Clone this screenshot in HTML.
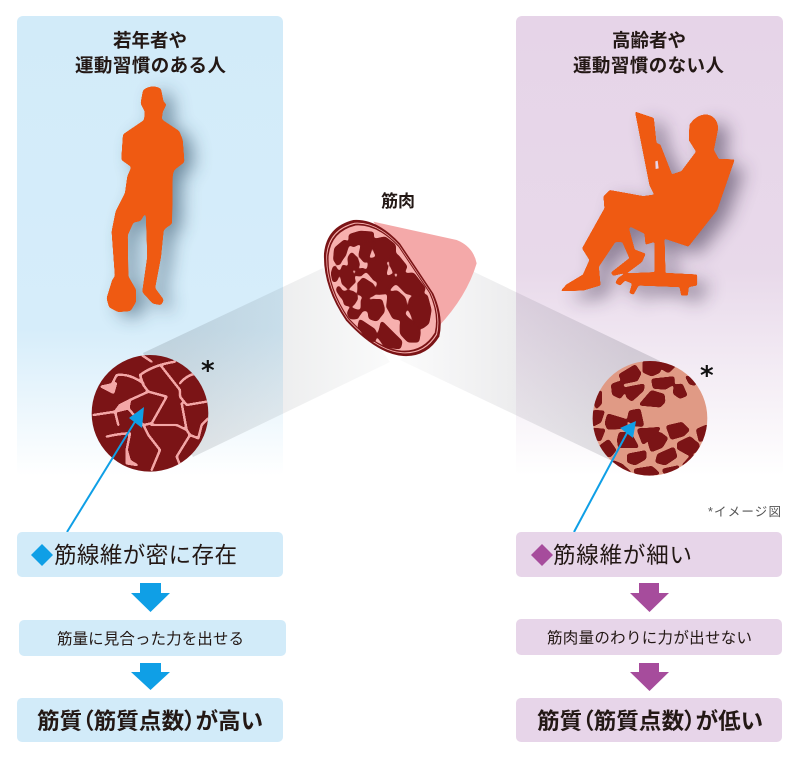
<!DOCTYPE html>
<html lang="ja"><head><meta charset="utf-8"><title>筋質</title>
<style>html,body{margin:0;padding:0;background:#fff}svg{display:block}text{font-family:"Liberation Sans","Noto Sans CJK JP",sans-serif;fill:#231815}.b{font-weight:700}</style></head>
<body>
<svg width="800" height="760" viewBox="0 0 800 760" xmlns="http://www.w3.org/2000/svg">
<defs>
<linearGradient id="pb" x1="0" y1="0" x2="0" y2="1"><stop offset="0" stop-color="#d2ebf9"/><stop offset=".68" stop-color="#d6edfa"/><stop offset="1" stop-color="#fff"/></linearGradient>
<linearGradient id="pp" x1="0" y1="0" x2="0" y2="1"><stop offset="0" stop-color="#e6d4e8"/><stop offset=".55" stop-color="#e8d9ea"/><stop offset="1" stop-color="#fff"/></linearGradient>
<linearGradient id="bl" gradientUnits="userSpaceOnUse" x1="170" y1="0" x2="395" y2="0"><stop offset="0" stop-color="#303840" stop-opacity=".15"/><stop offset="1" stop-color="#303840" stop-opacity=".02"/></linearGradient>
<linearGradient id="br" gradientUnits="userSpaceOnUse" x1="630" y1="0" x2="400" y2="0"><stop offset="0" stop-color="#303040" stop-opacity=".16"/><stop offset="1" stop-color="#303040" stop-opacity=".02"/></linearGradient>
<filter id="s" x="-50%" y="-50%" width="200%" height="200%"><feGaussianBlur stdDeviation="28"/></filter>
<filter id="goo" x="-5%" y="-5%" width="110%" height="110%" color-interpolation-filters="sRGB"><feGaussianBlur stdDeviation="4"/><feColorMatrix values="1 0 0 0 0 0 1 0 0 0 0 0 1 0 0 0 0 0 16 -7"/></filter>
<filter id="goo2" x="-5%" y="-5%" width="110%" height="110%" color-interpolation-filters="sRGB"><feGaussianBlur stdDeviation="2.500"/><feColorMatrix values="1 0 0 0 0 0 1 0 0 0 0 0 1 0 0 0 0 0 14 -6"/></filter>
<filter id="goo3" x="-5%" y="-5%" width="110%" height="110%" color-interpolation-filters="sRGB"><feGaussianBlur stdDeviation="5"/><feColorMatrix values="1 0 0 0 0 0 1 0 0 0 0 0 1 0 0 0 0 0 10 -4.500"/></filter>
<clipPath id="c1"><circle cx="210" cy="190" r="175"/></clipPath>
<clipPath id="c2"><circle cx="210" cy="205" r="172"/></clipPath>
<path id="man" d="M162,32 Q185,15 210,28 L218,68 L226,73 L215,95 L212,120 L265,155 L275,180 L280,245 L250,268 L245,285 L243,430 L225,442 L218,450 L210,530 L192,625 L218,660 L212,672 L190,668 L160,635 L175,530 L170,385 L150,420 L128,425 L110,465 L112,590 L135,630 L135,665 L120,690 L85,693 L60,680 L53,655 L70,600 L78,590 L68,455 L80,395 L108,340 L115,290 L128,260 L97,238 L102,165 L165,122 L168,95 L155,70 Z"/>
<g id="reader">
<path d="M257,37 L310,55 L318,130 L330,135 L365,225 L395,215 L440,155 L418,120 L420,75 Q440,45 470,45 Q500,50 503,85 L490,150 L505,178 L552,180 L500,330 L415,438 L345,415 L320,422 L288,432 L285,400 L240,378 L235,390 L218,425 L195,425 L145,500 L150,555 L100,570 L35,572 L50,555 L100,525 L120,480 L98,445 L165,325 L162,290 L180,272 L280,290 L315,285 L300,255 Z"/>
<path d="M235,385 L253,450 L285,462 L275,485 L235,515 L190,526 L185,518 L240,475 L218,425 Z"/>
<path d="M315,415 L342,415 L345,520 L440,525 L440,555 L415,560 L412,585 L395,585 L390,560 L265,555 L250,582 L240,578 L248,550 L225,540 L210,555 L198,548 L205,535 L225,522 L315,518 Z"/>
</g>
<path id="mus" d="M42,130 Q50,50 130,30 Q200,25 270,100 L370,250 Q402,320 388,380 Q350,442 280,438 Q200,432 108,332 Q38,230 42,130 Z"/>
</defs>

<rect x="17" y="16" width="266" height="460" rx="6" fill="url(#pb)"/>
<rect x="516" y="16" width="267" height="460" rx="6" fill="url(#pp)"/>

<polygon points="143,353 323,268 390,362 193,457" fill="url(#bl)"/>
<polygon points="660,361 470,270 400,360 610,460" fill="url(#br)"/>

<text class="b" x="150" y="47" font-size="18.5" text-anchor="middle">若年者や</text>
<text class="b" x="75" y="72" font-size="18.5" textLength="151">運動習慣のある人</text>
<text class="b" x="649" y="47" font-size="18.5" text-anchor="middle">高齢者や</text>
<text class="b" x="573" y="72" font-size="18.5" textLength="151">運動習慣のない人</text>

<g transform="translate(90,80) scale(.3333)">
<use href="#man" transform="translate(30,16)" fill="#2b4a60" opacity=".6" filter="url(#s)"/>
<g filter="url(#goo)"><use href="#man" fill="#ef5a12" stroke="#ef5a12" stroke-width="6" stroke-linejoin="round"/></g>
</g>
<g transform="translate(550,100) scale(.3333)">
<use href="#reader" transform="translate(32,24)" fill="#3b2f48" opacity=".55" filter="url(#s)"/>
<g filter="url(#goo2)"><use href="#reader" fill="#ef5a12" stroke="#ef5a12" stroke-width="3" stroke-linejoin="round"/></g>
<polygon points="316,184 323,182 326,205 317,207" fill="#e6d4e8"/>
</g>

<text class="b" x="381" y="207" font-size="17">筋肉</text>

<g transform="translate(310,210) scale(.3333)">
<path d="M190,35 L440,90 Q490,110 500,160 Q470,260 385,350 L300,200 Z" fill="#f4a9a9"/>
<use href="#mus" fill="#7b1416"/>
<use href="#mus" fill="#f7b0ae" transform="translate(215,235) scale(.96) translate(-215,-235)"/>
<use href="#mus" fill="#7b1416" transform="translate(215,235) scale(.945) translate(-215,-235)"/>
<use href="#mus" fill="#f7b0ae" transform="translate(215,235) scale(.92) translate(-215,-235)"/>
<g filter="url(#goo3)"><g fill="#7b1416" stroke="#7b1416" stroke-width="6" stroke-linejoin="round">
<polygon points="118,75 150,65 190,68 188,85 155,95 130,110 120,100"/>
<polygon points="75,115 105,90 115,105 105,135 85,165 72,150"/>
<polygon points="155,105 183,98 180,130 165,158 148,135"/>
<polygon points="190,90 225,82 255,105 255,135 225,155 195,130"/>
<polygon points="125,128 140,145 148,165 135,178 118,170 115,145"/>
<polygon points="180,148 210,140 232,170 225,200 195,212 172,185"/>
<polygon points="262,135 290,170 280,188 250,185 240,158"/>
<polygon points="72,168 85,185 80,212 70,215 65,190"/>
<polygon points="100,165 125,185 135,215 115,235 97,220 93,185"/>
<polygon points="140,185 160,175 165,185 150,197 138,195"/>
<polygon points="160,205 190,225 192,255 165,262 145,250 145,220"/>
<polygon points="205,215 250,193 255,220 225,250 200,252"/>
<polygon points="265,195 310,190 345,235 335,255 290,250 260,220"/>
<polygon points="85,228 100,250 95,263 80,240"/>
<polygon points="105,245 130,245 142,265 130,285 105,285 100,265"/>
<polygon points="155,268 175,268 170,300 155,300"/>
<polygon points="185,270 215,270 222,305 200,332 178,325 175,295"/>
<polygon points="235,250 260,243 285,265 288,300 270,328 250,325 232,290"/>
<polygon points="300,265 350,255 362,300 355,340 335,355 310,325 298,300"/>
<polygon points="120,295 155,305 140,325 120,325 113,310"/>
<polygon points="150,330 195,360 195,395 170,385 145,350"/>
<polygon points="215,335 245,365 275,395 270,415 225,410 205,380"/>
<polygon points="285,315 330,365 325,395 295,395 272,370 272,340"/>
</g></g>
</g>

<g transform="translate(80,350) scale(.3333)">
<circle cx="210" cy="190" r="175" fill="#7b1416"/>
<g clip-path="url(#c1)"><g filter="url(#goo2)"><g fill="none" stroke="#f3a6a6" stroke-width="7" stroke-linejoin="round" stroke-linecap="round">
<path d="M185,15 L215,35"/>
<path d="M180,75 Q220,45 285,35"/>
<path d="M245,50 L300,120 L300,140 L320,165 L380,155"/>
<path d="M300,100 Q320,75 350,70"/>
<path d="M180,75 L190,105 L205,125 L260,140 L215,220 L190,225"/>
<path d="M205,125 L150,150 L145,175 L170,205 L190,225"/>
<path d="M150,150 L120,165 L105,185 L40,195"/>
<path d="M105,185 L115,225"/>
<path d="M190,100 Q150,70 110,75 L95,105 L65,110 L100,125"/>
<path d="M215,225 L290,225 L320,240 L330,255 L290,320 L300,345"/>
<path d="M190,225 L205,255 L240,300 L215,360"/>
<path d="M80,260 Q120,250 150,250 L140,300 L145,330 L170,345"/>
<path d="M330,255 L355,265 L365,225 L385,205"/>
<path d="M320,240 L305,160"/>
<polygon points="65,110 100,128 108,100" fill="#f3a6a6"/>
<polygon points="105,185 145,175 135,158" fill="#f3a6a6"/>
<polygon points="140,300 150,335 170,345 140,340" fill="#f3a6a6"/>
</g></g></g>
</g>

<g transform="translate(580,350) scale(.3333)">
<circle cx="210" cy="205" r="172" fill="#e09a85"/>
<g clip-path="url(#c2)"><g filter="url(#goo)"><g fill="#7b1416" stroke="#7b1416" stroke-width="8" stroke-linejoin="round">
<polygon points="120,75 165,48 180,70 170,90 130,98"/>
<polygon points="192,35 235,35 238,65 215,75 192,65"/>
<polygon points="245,38 285,45 265,65 248,55"/>
<polygon points="97,105 118,97 135,120 120,142 100,132"/>
<polygon points="140,115 190,105 188,120 155,150 142,140"/>
<polygon points="218,90 280,83 280,100 255,115 222,112"/>
<polygon points="285,108 305,105 318,135 300,142 283,130"/>
<polygon points="320,80 340,90 345,103 330,100"/>
<polygon points="215,125 250,135 252,155 240,168 182,163"/>
<polygon points="45,135 62,125 62,160 50,172 45,160"/>
<polygon points="38,185 70,185 60,215 40,225"/>
<polygon points="85,195 135,210 140,232 85,235 78,220"/>
<polygon points="150,185 178,180 188,225 165,225 145,210"/>
<polygon points="40,238 72,240 60,270 45,265"/>
<polygon points="120,250 150,250 172,290 118,290 115,270"/>
<polygon points="175,240 238,235 190,280"/>
<polygon points="240,250 260,265 245,290 215,302 208,280"/>
<polygon points="262,230 305,220 325,240 310,255 275,265"/>
<polygon points="352,240 380,228 380,265 360,272"/>
<polygon points="295,280 330,263 355,285 355,300 325,312 295,295"/>
<polygon points="60,290 85,272 105,300 90,318 68,315"/>
<polygon points="145,315 195,305 195,325 165,342 145,335"/>
<polygon points="235,315 280,295 288,320 255,342 230,335"/>
<polygon points="310,345 335,318 340,320 320,345"/>
<polygon points="100,335 125,345 150,368 120,365"/>
<polygon points="165,360 215,352 235,370 170,378"/>
<polygon points="250,360 295,350 270,370 255,370"/>
</g></g></g>
</g>

<text x="201" y="379" font-size="26" font-weight="700" style="font-family:'DejaVu Sans',sans-serif;fill:#111">*</text>
<text x="700" y="384" font-size="26" font-weight="700" style="font-family:'DejaVu Sans',sans-serif;fill:#111">*</text>

<line x1="67" y1="532" x2="136" y2="420" stroke="#0f9fe6" stroke-width="2"/>
<polygon points="144,407 142,428 129,418" fill="#0f9fe6"/>
<line x1="574" y1="532" x2="627" y2="433" stroke="#0f9fe6" stroke-width="2"/>
<polygon points="636,421 633,438 620,428" fill="#0f9fe6"/>

<text x="708" y="516" font-size="12.5" textLength="73" style="fill:#555">*イメージ図</text>

<rect x="17" y="532" width="266" height="45" rx="5" fill="#d2ebf9"/>
<rect x="19" y="620" width="267" height="36" rx="5" fill="#d2ebf9"/>
<rect x="17" y="698" width="266" height="44" rx="5" fill="#d2ebf9"/>
<rect x="516" y="532" width="266" height="45" rx="5" fill="#e7d5e9"/>
<rect x="516" y="619" width="266" height="36" rx="5" fill="#e7d5e9"/>
<rect x="516" y="698" width="266" height="44" rx="5" fill="#e7d5e9"/>

<polygon points="42,544 53,555 42,566 31,555" fill="#0f9fe6"/>
<polygon points="542,544 553,555 542,566 531,555" fill="#a64c9c"/>

<text x="54" y="563" font-size="22.5" textLength="183">筋線維が密に存在</text>
<text x="553" y="563" font-size="22.5" textLength="139">筋線維が細い</text>
<text x="57" y="644" font-size="15.5" textLength="187">筋量に見合った力を出せる</text>
<text x="547" y="643" font-size="15.5" textLength="205">筋肉量のわりに力が出せない</text>
<text class="b" x="37" y="729" font-size="22.5" textLength="226" style="font-feature-settings:'palt'">筋質（筋質点数）が高い</text>
<text class="b" x="537" y="729" font-size="22.5" textLength="226" style="font-feature-settings:'palt'">筋質（筋質点数）が低い</text>

<polygon points="140,583 161,583 161,593 170,593 150.500,612 131,593 140,593" fill="#0f9fe6"/>
<polygon points="140,663 161,663 161,672 170,672 150.500,690 131,672 140,672" fill="#0f9fe6"/>
<polygon points="639,583 659,583 659,593 669,593 649.500,612 630,593 639,593" fill="#a64c9c"/>
<polygon points="639,663 659,663 659,672 669,672 649.500,691 630,672 639,672" fill="#a64c9c"/>
</svg>
</body></html>
